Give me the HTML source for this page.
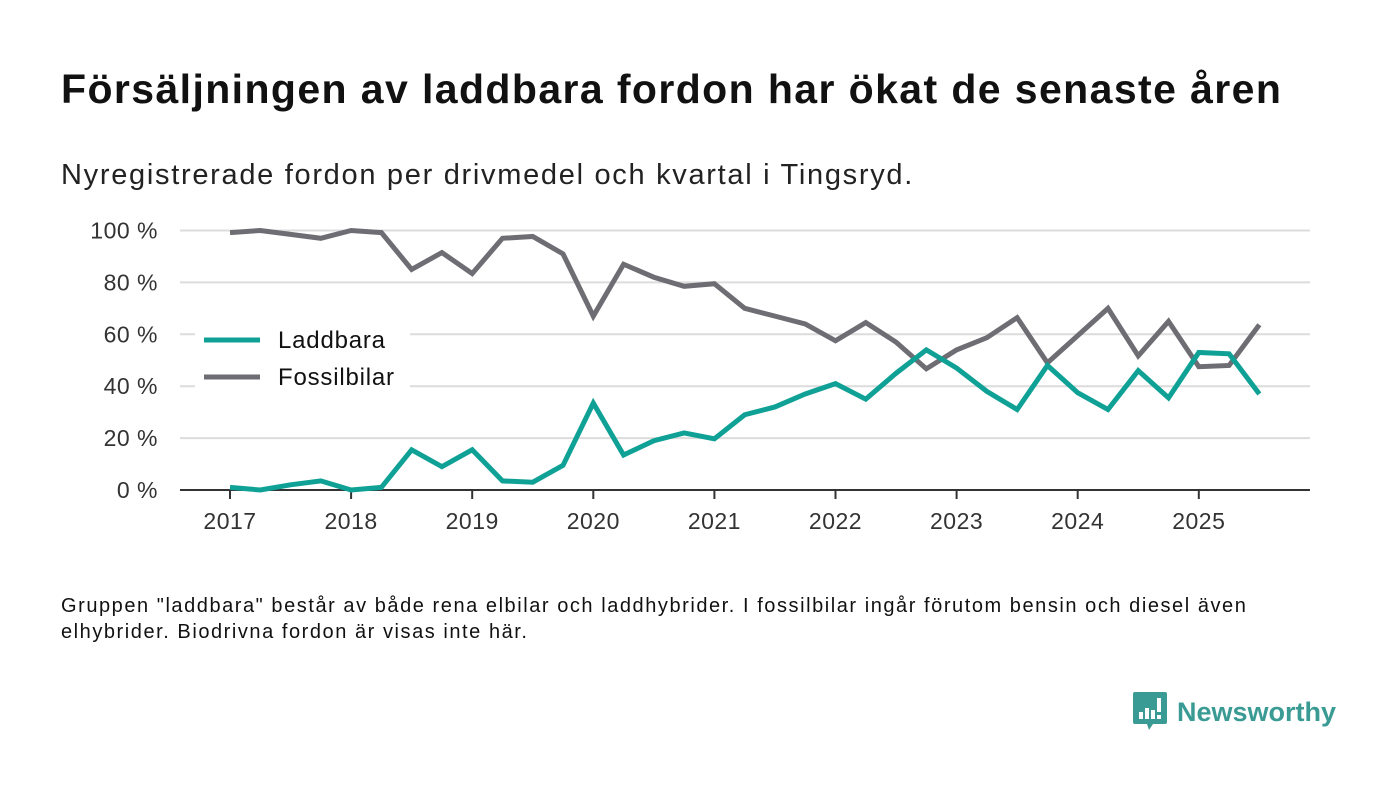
<!DOCTYPE html>
<html><head><meta charset="utf-8"><style>
body{margin:0;background:#fff;width:1400px;height:793px;overflow:hidden;font-family:"Liberation Sans","DejaVu Sans",sans-serif;color:#111}
#title{position:absolute;left:61px;top:66px;font-size:41px;font-weight:bold;margin:0;color:#111;letter-spacing:1.4px;white-space:nowrap}
#sub{position:absolute;left:61px;top:159px;font-size:29px;color:#222;letter-spacing:1.7px;white-space:nowrap}
#note{position:absolute;left:61px;top:593px;font-size:20px;line-height:26px;color:#111;width:1235px;letter-spacing:1.55px}
#logo{position:absolute;left:1133px;top:692px;display:flex;align-items:center}
#logo span{font-size:27px;font-weight:bold;color:#3a9b94;margin-left:10px}
svg text{font-family:"Liberation Sans","DejaVu Sans",sans-serif}
</style></head><body>
<h1 id="title">Försäljningen av laddbara fordon har ökat de senaste åren</h1>
<div id="sub">Nyregistrerade fordon per drivmedel och kvartal i Tingsryd.</div>
<svg id="chart" width="1400" height="793" style="position:absolute;left:0;top:0"></svg>
<div id="note">Gruppen "laddbara" består av både rena elbilar och laddhybrider. I fossilbilar ingår förutom bensin och diesel även elhybrider. Biodrivna fordon är visas inte här.</div>
<div id="logo">
<svg width="34" height="40" viewBox="0 0 34 40"><path d="M0 2 Q0 0 2 0 H32 Q34 0 34 2 V30 Q34 32 32 32 H20 L16 38 L14 32 H2 Q0 32 0 30Z" fill="#3a9b94"/><rect x="6" y="20" width="4" height="7" fill="#fff"/><rect x="12" y="16" width="4" height="11" fill="#fff"/><rect x="18" y="18" width="4" height="9" fill="#fff"/><rect x="24" y="6" width="4" height="14" fill="#fff"/><rect x="24" y="23" width="4" height="4" fill="#fff"/></svg>
<span>Newsworthy</span></div>
<script>
const years=[2017,2018,2019,2020,2021,2022,2023,2024,2025];
const yTicks=[0,20,40,60,80,100];
const laddbara=[1,0,2,3.5,0,1,15.5,9,15.5,3.5,3,9.5,33.5,13.5,19,22,19.7,29,32,37,41,35,45,54,47,38,31,48,37.5,31,46,35.5,53,52.5,37];
const fossil=[99.2,100,98.5,97,100,99.2,85,91.5,83.4,97,97.7,91,67,87,82,78.5,79.5,70,67,64,57.5,64.5,57,46.7,54,58.7,66.4,49,59.5,70,51.7,65,47.5,48,63.7];
const NS='http://www.w3.org/2000/svg';
const svg=document.getElementById('chart');
const X=t=>230+(t-2017)*121.1;
const Y=v=>490-v*2.595;
function el(tag,attrs,parent){const e=document.createElementNS(NS,tag);for(const k in attrs)e.setAttribute(k,attrs[k]);(parent||svg).appendChild(e);return e;}
yTicks.forEach(v=>{
 if(v>0){const g=el('line',{x1:180,x2:1310,y1:Y(v),y2:Y(v),stroke:'#dcdcdc','stroke-width':2});
 
 }
 const t=el('text',{x:158,y:Y(v)+8,'text-anchor':'end','font-size':23,fill:'#333','letter-spacing':0.5});t.textContent=v+' %';
 
 
});
const ax=el('line',{x1:180,x2:1310,y1:490,y2:490,stroke:'#333','stroke-width':2});


years.forEach(y=>{
 const tk=el('line',{x1:X(y),x2:X(y),y1:490,y2:499,stroke:'#333','stroke-width':2});
 
 
 const t=el('text',{x:X(y),y:529,'text-anchor':'middle','font-size':23,fill:'#333','letter-spacing':0.5});t.textContent=y;
 
 
});
const lb=el('rect',{x:195,y:322,width:215,height:75,fill:'#fff'});


function series(vals,color,name){
 const p=el('polyline',{points:vals.map((v,i)=>X(2017+i/4)+','+Y(v)).join(' '),fill:'none',stroke:color,'stroke-width':5,'stroke-linejoin':'miter'});
 
 
}
series(fossil,'#6e6d73','fossilbilar-line');
series(laddbara,'#0fa195','laddbara-line');
[['Laddbara','#0fa195',340],['Fossilbilar','#6e6d73',377]].forEach(([n,c,y])=>{
 const l=el('line',{x1:204,x2:260,y1:y,y2:y,stroke:c,'stroke-width':5});
 
 
 const t=el('text',{x:278,y:y+8,'font-size':24,fill:'#111','letter-spacing':0.8});t.textContent=n;
 
 
});
</script>
</body></html>
